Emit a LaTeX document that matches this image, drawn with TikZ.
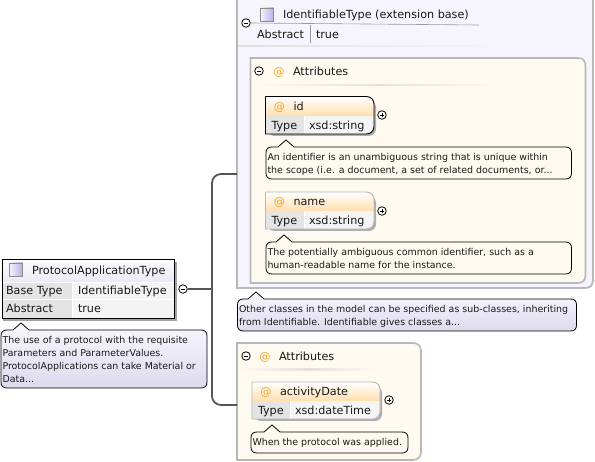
\documentclass[tikz,border=0pt]{standalone}
\usepackage{fontspec}
\setmainfont{DejaVu Sans}
\usetikzlibrary{calc}
\definecolor{conn}{HTML}{555555}
\definecolor{boxgrey}{HTML}{B8B8B8}
\definecolor{lavpale}{HTML}{F6F5FD}
\definecolor{lavtop}{HTML}{F8F7FD}
\definecolor{lavbot}{HTML}{DEDAEE}
\definecolor{creamy}{HTML}{FFFAF0}
\definecolor{peach}{HTML}{FFDFAE}
\definecolor{atorange}{HTML}{EFA52E}
\definecolor{cellgrey}{HTML}{E4E4E4}
\definecolor{cellpale}{HTML}{F4F4F4}
\definecolor{shadowgrey}{HTML}{8C8C8C}
\tikzset{
  lbl/.style={anchor=base west,inner sep=0pt,outer sep=0pt,font=\fontsize{11.2}{13}\selectfont,text=black!90},
  note/.style={anchor=north west,inner sep=0pt,outer sep=0pt,align=left,font=\fontsize{9.45}{12.8}\selectfont,text=black!90},
  at sign/.style={anchor=base,inner sep=0pt,font=\fontsize{11.2}{13}\selectfont,text=atorange},
  btn/.style={circle,draw=black,line width=0.8pt,fill=white,minimum size=8.5pt,inner sep=0pt},
  minusbtn/.style={btn,path picture={\draw[line width=0.7pt] ([xshift=-2.2pt]path picture bounding box.center) -- ([xshift=2.2pt]path picture bounding box.center);}},
  plusbtn/.style={btn,path picture={\draw[line width=0.7pt] ([xshift=-2.2pt]path picture bounding box.center) -- ([xshift=2.2pt]path picture bounding box.center) ([yshift=-2.2pt]path picture bounding box.center) -- ([yshift=2.2pt]path picture bounding box.center);}},
  connector/.style={draw=conn,line width=1.8pt,rounded corners=9pt},
  icon/.style={rectangle,draw=black!45,line width=0.6pt,left color=lavbot!30,right color=black!5!lavbot!85!blue,minimum size=13pt,inner sep=0pt},
  anchorpt/.style={inner sep=0pt,outer sep=0pt,minimum size=0pt},
  creamnote/.style={fill=creamy},
  lavnote/.style={top color=lavtop,bottom color=lavbot},
}
% style name x1 y1 x2 y2 apexx text
\newcommand{\calloutshape}[8]{%
  \path[draw=black,line width=0.8pt,#1]
    (#3+6,#4) -- (#7-8,#4) -- (#7,#4-7) -- (#7+8,#4) -- (#5-6,#4) .. controls (#5-2,#4) and (#5,#4+2) .. (#5,#4+6) -- (#5,#6-6) .. controls (#5,#6-2) and (#5-2,#6) .. (#5-6,#6) -- (#3+6,#6) .. controls (#3+2,#6) and (#3,#6-2) .. (#3,#6-6) -- (#3,#4+6) .. controls (#3,#4+2) and (#3+2,#4) .. (#3+6,#4) -- cycle;
  \node[note] (#2) at (#3+1.5,#4+6.5) {#8};
}
% name x1 y1 x2 y2 ysplit xsplit title type (\bordercol set beforehand)
\newcommand{\attrbox}[9]{%
  \fill[shadowgrey!70,rounded corners=7pt] (#2+2,#3+4) -- (#4+2,#3+4) -- (#4+2,#5+2) -- (#2+2,#5+2) -- cycle;
  \fill[cellpale] (#7,#6) -- (#4,#6) -- (#4,#5-8) .. controls (#4,#5-3) and (#4-3,#5) .. (#4-8,#5) -- (#7,#5) -- cycle;
  \fill[cellgrey] (#2,#6) rectangle (#7,#5);
  \path[top color=white,bottom color=peach] (#2,#6) -- (#2,#3) -- (#4-8,#3) .. controls (#4-3,#3) and (#4,#3+3) .. (#4,#3+8) -- (#4,#6) -- cycle;
  \draw[draw=\bordercol,line width=0.9pt] (#2,#5) -- (#2,#3) -- (#4-8,#3) .. controls (#4-3,#3) and (#4,#3+3) .. (#4,#3+8) -- (#4,#5-8) .. controls (#4,#5-3) and (#4-3,#5) .. (#4-8,#5) -- cycle;
  \draw[white,line width=0.8pt] (#7,#6) -- (#7,#5-0.5);
  \node[at sign] (#1at) at (#2+14,#6-5.5) {@};
  \node[lbl] (#1title) at (#2+28,#6-5.5) {#8};
  \node[lbl] (#1key) at (#2+6,#5-4.5) {Type};
  \node[lbl] (#1val) at (#7+5,#5-4.5) {#9};
}
\begin{document}
\begin{tikzpicture}[x=1pt,y=-1pt]
\useasboundingbox (0,0) rectangle (595,462);
\fill[white] (0,0) rectangle (595,462);
\begin{scope}
\clip (0,0) rectangle (595,462);

% outer extension box
\draw[draw=boxgrey,line width=1.8pt,fill=lavpale] (237,-1) -- (593,-1) -- (593,280) .. controls (593,285) and (590,288) .. (585,288) -- (237,288) -- cycle;
\node[anchorpt] (outerjoin) at (237,174) {};
\node[minusbtn] (extminus) at (246,23) {};
\node[icon] (exticon) at (267,14.5) {};
\node[lbl] (exttitle) at (283,18.5) {IdentifiableType (extension base)};
\draw[black!40,line width=0.6pt] (extminus.east) -- (479,25);
\draw[black!40,line width=0.6pt] (310,25) -- (310,43);
\node[lbl] (extkey) at (257,38.5) {Abstract};
\node[lbl] (extval) at (316,38.5) {true};
\fill[left color=black!12,right color=lavpale] (238,45.5) rectangle (507,47);

% inner attributes box
\draw[draw=boxgrey,line width=1.6pt,fill=creamy] (250.5,58) -- (578,58) .. controls (583,58) and (585.5,61) .. (585.5,66) -- (585.5,275) .. controls (585.5,280) and (583,283) .. (578,283) -- (250.5,283) -- cycle;
\node[minusbtn] (attrminus) at (259,71) {};
\node[at sign] (attrat) at (279,75.5) {@};
\node[lbl] (attrtitle) at (293,75.5) {Attributes};
\fill[left color=creamy,right color=creamy,middle color=black!10!creamy] (255,84.5) rectangle (500,86);

% id
\def\bordercol{black}
\attrbox{idb}{265.5}{96.5}{374}{134}{116}{304}{id}{xsd:string}
\node[plusbtn] (idplus) at (382,115) {};
\calloutshape{creamnote}{idnote}{266}{147}{571.5}{179}{286}{An identifier is an unambiguous string that is unique within\\the scope (i.e. a document, a set of related documents, or...}

% name
\def\bordercol{boxgrey}
\attrbox{nameb}{265.5}{192}{374}{229}{211}{304}{name}{xsd:string}
\node[plusbtn] (nameplus) at (382,211) {};
\calloutshape{creamnote}{namenote}{266}{242}{571.5}{274}{284}{The potentially ambiguous common identifier, such as a\\human-readable name for the instance.}

% extension note
\calloutshape{lavnote}{extnote}{237.5}{299}{576.5}{331}{256}{Other classes in the model can be specified as sub-classes, inheriting\\from Identifiable. Identifiable gives classes a...}

% second attributes box
\draw[draw=boxgrey,line width=1.6pt,fill=creamy] (237,343) -- (413,343) .. controls (418,343) and (421,346) .. (421,351) -- (421,452) .. controls (421,457) and (418,460) .. (413,460) -- (237,460) -- cycle;
\node[anchorpt] (attr2join) at (237,405) {};
\node[minusbtn] (attr2minus) at (246,356) {};
\node[at sign] (attr2at) at (265,360.5) {@};
\node[lbl] (attr2title) at (279,360.5) {Attributes};
\fill[left color=creamy,right color=creamy,middle color=black!10!creamy] (240,369) rectangle (377,370.5);

% activityDate
\attrbox{dateb}{252}{382}{380}{419}{401}{290}{activityDate}{xsd:dateTime}
\node[plusbtn] (dateplus) at (389,400) {};
\calloutshape{creamnote}{datenote}{251}{432}{408}{453}{272}{When the protocol was applied.}

% main type box
\fill[shadowgrey!80] (3,262) rectangle (177,321);
\fill[top color=lavtop!40,bottom color=lavbot!60] (1.5,259.5) rectangle (174,282);
\fill[cellgrey] (1.5,282) rectangle (72,318);
\fill[cellpale] (72,282) rectangle (174,318);
\draw[white,line width=0.8pt] (1.5,282) -- (174,282) (1.5,299.5) -- (174,299.5) (72,282) -- (72,318);
\node[draw=black,line width=1pt,minimum width=172.5pt,minimum height=58.5pt,inner sep=0pt,anchor=north west] (mainbox) at (1.5,259.5) {};
\node[icon] (mainicon) at (16,269.5) {};
\node[lbl] (maintitle) at (32,274.5) {ProtocolApplicationType};
\node[lbl] (basekey) at (6,294.5) {Base Type};
\node[lbl] (baseval) at (78,294.5) {IdentifiableType};
\node[lbl] (abskey) at (6,312.5) {Abstract};
\node[lbl] (absval) at (78,312.5) {true};
\node[minusbtn] (mainminus) at (183,289) {};
\calloutshape{lavnote}{mainnote}{1}{330}{207}{388}{21}{The use of a protocol with the requisite\\Parameters and ParameterValues.\\ProtocolApplications can take Material or\\Data...}

% connectors
\coordinate (trunk) at (212,289);
\draw[connector] (outerjoin.west) -- (trunk |- outerjoin) -- (trunk |- attr2join) -- (attr2join.west);
\draw[draw=conn,line width=1.8pt] (mainminus.east) -- (trunk);
\end{scope}
\end{tikzpicture}
\end{document}
